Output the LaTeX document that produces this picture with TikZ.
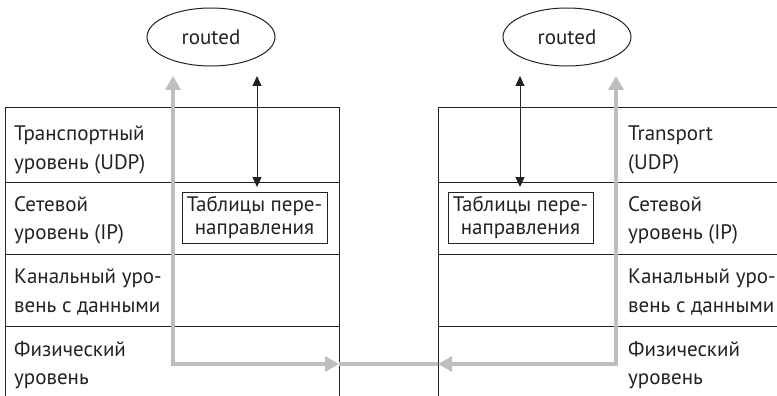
\documentclass[tikz,border=0pt]{standalone}
\usepackage{fontspec}
\setmainfont{PT Sans}
\usetikzlibrary{arrows.meta,shapes.geometric}
\definecolor{arrgray}{HTML}{BEBEBE}
\definecolor{ink}{HTML}{222222}
\begin{document}
\begin{tikzpicture}[x=1pt,y=-1pt,
  txt/.style={anchor=base west, inner sep=0pt, text=ink, font=\fontsize{21}{23}\selectfont},
  frame/.style={line width=1pt, draw=ink},
  daemon/.style={draw=ink, line width=1pt, ellipse, minimum width=128pt, minimum height=58pt, inner sep=0pt, text=ink, font=\fontsize{21}{23}\selectfont},
  tablebox/.style={draw=ink, line width=1pt, minimum width=145pt, minimum height=51pt, inner sep=0pt, align=center, text=ink, font=\fontsize{21}{23.5}\selectfont},
  graypath/.style={line width=4.5pt, draw=arrgray},
  grayhead/.style={{Triangle[length=14pt,width=15pt]}-{Triangle[length=14pt,width=15pt]}},
  blackarrow/.style={draw=ink, line width=1pt, {Triangle[length=10pt,width=9pt]}-{Triangle[length=10pt,width=9pt]}}
]
\useasboundingbox (0,0) rectangle (777,396);

% left stack
\draw[frame] (5,396) -- (5,108) -- (339,108) -- (339,396);
\draw[frame] (5,182) -- (339,182);
\draw[frame] (5,254) -- (339,254);
\draw[frame] (5,326) -- (339,326);

% right stack
\draw[frame] (438,396) -- (438,108) -- (777,108);
\draw[frame] (438,182) -- (777,182);
\draw[frame] (438,254) -- (777,254);
\draw[frame] (438,326) -- (777,326);

% left stack labels
\node[txt] (l1a) at (14,140) {Транспортный};
\node[txt] (l1b) at (14,169) {уровень (UDP)};
\node[txt] (l2a) at (14,211) {Сетевой};
\node[txt] (l2b) at (14,239) {уровень (IP)};
\node[txt] (l3a) at (14,283) {Канальный уро-};
\node[txt] (l3b) at (14,312) {вень с данными};
\node[txt] (l4a) at (14,356) {Физический};
\node[txt] (l4b) at (14,384) {уровень};

% right stack labels
\node[txt] (r1a) at (628,140) {Transport};
\node[txt] (r1b) at (628,169) {(UDP)};
\node[txt] (r2a) at (628,211) {Сетевой};
\node[txt] (r2b) at (628,239) {уровень (IP)};
\node[txt] (r3a) at (628,283) {Канальный уро-};
\node[txt] (r3b) at (628,312) {вень с данными};
\node[txt] (r4a) at (628,356) {Физический};
\node[txt] (r4b) at (628,384) {уровень};

% daemons
\node[daemon] (rl) at (211,37) {routed};
\node[daemon] (rr) at (567,37) {routed};

% forwarding tables
\node[tablebox] (tl) at (254.5,217.5) {Таблицы пере-\\направления};
\node[tablebox] (tr) at (520.5,217.5) {Таблицы пере-\\направления};

% black arrows
\coordinate (bl1) at (257,76);
\coordinate (bl2) at (257,187);
\coordinate (br1) at (520,76);
\coordinate (br2) at (520,187);
\draw[blackarrow] (bl1) -- (bl2);
\draw[blackarrow] (br1) -- (br2);

% gray data path
\coordinate (gl1) at (173,76);
\coordinate (gl2) at (339,364);
\coordinate (gr1) at (616,76);
\coordinate (gr2) at (438,364);
\draw[graypath] (gl2) -- (gr2);
\draw[graypath, grayhead] (gl1) |- (gl2);
\draw[graypath, grayhead] (gr1) |- (gr2);
\end{tikzpicture}
\end{document}
